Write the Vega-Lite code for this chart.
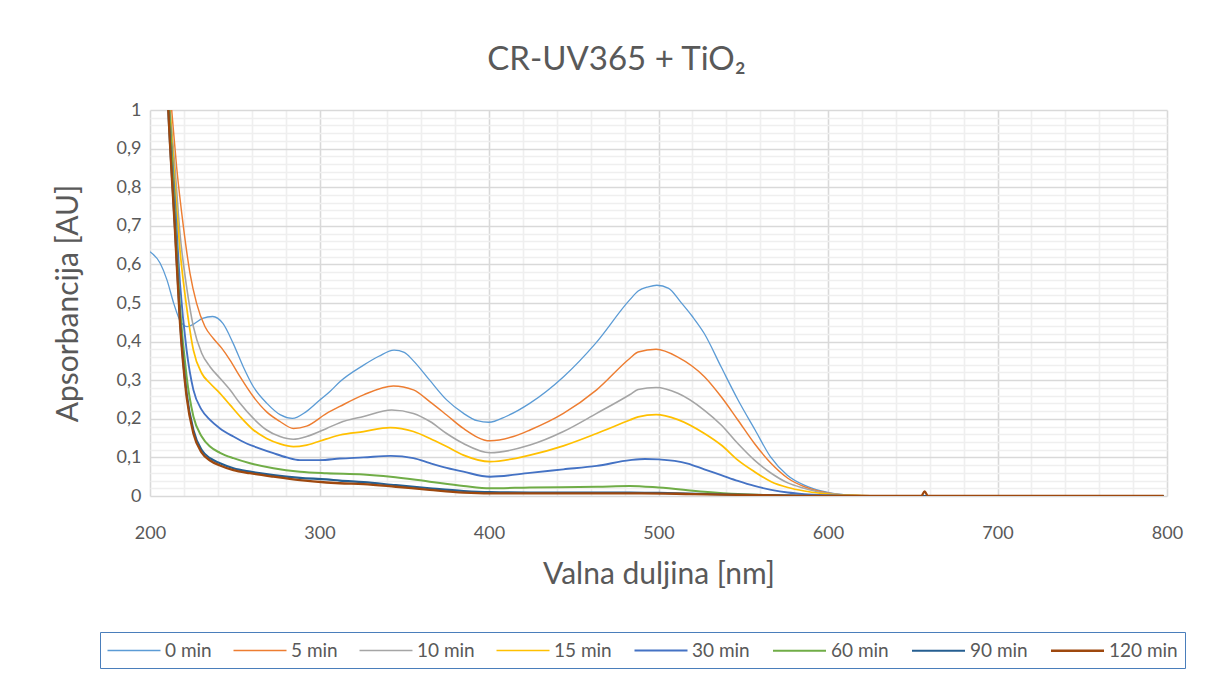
{
  "$schema": "https://vega.github.io/schema/vega-lite/v6.json",
  "width": 1017,
  "height": 386,
  "autosize": {"type": "none"},
  "padding": {"left": 150, "top": 110, "right": 42, "bottom": 179},
  "background": "white",
  "title": {
    "text": "CR-UV365 + TiO₂",
    "font": "Lato",
    "fontSize": 33,
    "fontWeight": "normal",
    "color": "#595959",
    "anchor": "middle",
    "dx": -42,
    "offset": 24
  },
  "config": {
    "view": {"stroke": null},
    "axis": {"labelFont": "Lato", "titleFont": "Lato", "labelColor": "#595959", "titleColor": "#595959", "titleFontWeight": "normal", "domain": false, "ticks": false, "gridWidth": 1.6, "labelFlush": false}
  },
  "data": {
    "values": [
      {"s":"0 min","x":200,"y":0.633},{"s":"0 min","x":206,"y":0.603},{"s":"0 min","x":210,"y":0.56},{"s":"0 min","x":214,"y":0.499},{"s":"0 min","x":218,"y":0.452},{"s":"0 min","x":222,"y":0.439},{"s":"0 min","x":226,"y":0.446},{"s":"0 min","x":231,"y":0.46},{"s":"0 min","x":237,"y":0.465},{"s":"0 min","x":243,"y":0.447},{"s":"0 min","x":249,"y":0.396},{"s":"0 min","x":255,"y":0.335},{"s":"0 min","x":261,"y":0.283},{"s":"0 min","x":269,"y":0.24},{"s":"0 min","x":277,"y":0.21},{"s":"0 min","x":284,"y":0.201},{"s":"0 min","x":292,"y":0.218},{"s":"0 min","x":300,"y":0.248},{"s":"0 min","x":306,"y":0.27},{"s":"0 min","x":312,"y":0.296},{"s":"0 min","x":326,"y":0.339},{"s":"0 min","x":335,"y":0.362},{"s":"0 min","x":344,"y":0.378},{"s":"0 min","x":350,"y":0.372},{"s":"0 min","x":355,"y":0.352},{"s":"0 min","x":365,"y":0.3},{"s":"0 min","x":375,"y":0.249},{"s":"0 min","x":385,"y":0.214},{"s":"0 min","x":393,"y":0.195},{"s":"0 min","x":400,"y":0.191},{"s":"0 min","x":410,"y":0.206},{"s":"0 min","x":424,"y":0.24},{"s":"0 min","x":444,"y":0.309},{"s":"0 min","x":463,"y":0.396},{"s":"0 min","x":483,"y":0.508},{"s":"0 min","x":488,"y":0.531},{"s":"0 min","x":494,"y":0.542},{"s":"0 min","x":499,"y":0.546},{"s":"0 min","x":506,"y":0.538},{"s":"0 min","x":513,"y":0.503},{"s":"0 min","x":520,"y":0.465},{"s":"0 min","x":527,"y":0.421},{"s":"0 min","x":537,"y":0.334},{"s":"0 min","x":547,"y":0.248},{"s":"0 min","x":557,"y":0.171},{"s":"0 min","x":566,"y":0.102},{"s":"0 min","x":576,"y":0.054},{"s":"0 min","x":586,"y":0.028},{"s":"0 min","x":596,"y":0.013},{"s":"0 min","x":606,"y":0.005},{"s":"0 min","x":620,"y":0.001},{"s":"0 min","x":650,"y":0},{"s":"0 min","x":700,"y":0},{"s":"0 min","x":750,"y":0},{"s":"0 min","x":798,"y":0},

      {"s":"5 min","x":208,"y":1.25},{"s":"5 min","x":212.8,"y":1.0},{"s":"5 min","x":215.7,"y":0.853},{"s":"5 min","x":219.7,"y":0.698},{"s":"5 min","x":223.6,"y":0.577},{"s":"5 min","x":227.5,"y":0.499},{"s":"5 min","x":232.4,"y":0.439},{"s":"5 min","x":237.4,"y":0.408},{"s":"5 min","x":242.3,"y":0.383},{"s":"5 min","x":247.2,"y":0.352},{"s":"5 min","x":253.1,"y":0.309},{"s":"5 min","x":261,"y":0.257},{"s":"5 min","x":268.8,"y":0.218},{"s":"5 min","x":276.7,"y":0.193},{"s":"5 min","x":284.6,"y":0.175},{"s":"5 min","x":292.4,"y":0.181},{"s":"5 min","x":304.2,"y":0.214},{"s":"5 min","x":312,"y":0.232},{"s":"5 min","x":326,"y":0.262},{"s":"5 min","x":343.6,"y":0.285},{"s":"5 min","x":355.4,"y":0.275},{"s":"5 min","x":365.2,"y":0.244},{"s":"5 min","x":375,"y":0.21},{"s":"5 min","x":384.9,"y":0.175},{"s":"5 min","x":400.6,"y":0.143},{"s":"5 min","x":414.4,"y":0.154},{"s":"5 min","x":424.2,"y":0.171},{"s":"5 min","x":443.9,"y":0.214},{"s":"5 min","x":463.5,"y":0.275},{"s":"5 min","x":483.2,"y":0.357},{"s":"5 min","x":488,"y":0.373},{"s":"5 min","x":498.6,"y":0.38},{"s":"5 min","x":511.4,"y":0.36},{"s":"5 min","x":527.1,"y":0.309},{"s":"5 min","x":537,"y":0.257},{"s":"5 min","x":546.8,"y":0.197},{"s":"5 min","x":556.6,"y":0.136},{"s":"5 min","x":566.5,"y":0.084},{"s":"5 min","x":576.3,"y":0.046},{"s":"5 min","x":586.1,"y":0.024},{"s":"5 min","x":596,"y":0.011},{"s":"5 min","x":606,"y":0.004},{"s":"5 min","x":620,"y":0.001},{"s":"5 min","x":650,"y":0},{"s":"5 min","x":700,"y":0},{"s":"5 min","x":750,"y":0},{"s":"5 min","x":798,"y":0},

      {"s":"10 min","x":208,"y":1.2},{"s":"10 min","x":211.8,"y":1.0},{"s":"10 min","x":214.7,"y":0.853},{"s":"10 min","x":217.7,"y":0.68},{"s":"10 min","x":221.6,"y":0.542},{"s":"10 min","x":225.6,"y":0.439},{"s":"10 min","x":230.5,"y":0.37},{"s":"10 min","x":235.4,"y":0.335},{"s":"10 min","x":241.3,"y":0.305},{"s":"10 min","x":247.2,"y":0.275},{"s":"10 min","x":253.1,"y":0.24},{"s":"10 min","x":261,"y":0.201},{"s":"10 min","x":268.8,"y":0.171},{"s":"10 min","x":276.7,"y":0.154},{"s":"10 min","x":284.6,"y":0.147},{"s":"10 min","x":292.4,"y":0.154},{"s":"10 min","x":304.2,"y":0.175},{"s":"10 min","x":312,"y":0.19},{"s":"10 min","x":326,"y":0.206},{"s":"10 min","x":342.6,"y":0.223},{"s":"10 min","x":355.4,"y":0.214},{"s":"10 min","x":365.2,"y":0.193},{"s":"10 min","x":375,"y":0.162},{"s":"10 min","x":384.9,"y":0.136},{"s":"10 min","x":400.6,"y":0.112},{"s":"10 min","x":424.2,"y":0.132},{"s":"10 min","x":443.9,"y":0.167},{"s":"10 min","x":463.5,"y":0.214},{"s":"10 min","x":483.2,"y":0.263},{"s":"10 min","x":488,"y":0.276},{"s":"10 min","x":498.6,"y":0.281},{"s":"10 min","x":511.4,"y":0.266},{"s":"10 min","x":527.1,"y":0.222},{"s":"10 min","x":537,"y":0.184},{"s":"10 min","x":546.8,"y":0.136},{"s":"10 min","x":556.6,"y":0.093},{"s":"10 min","x":566.5,"y":0.059},{"s":"10 min","x":576.3,"y":0.034},{"s":"10 min","x":586,"y":0.02},{"s":"10 min","x":596,"y":0.009},{"s":"10 min","x":610,"y":0.003},{"s":"10 min","x":630,"y":0},{"s":"10 min","x":700,"y":0},{"s":"10 min","x":798,"y":0},

      {"s":"15 min","x":208,"y":1.2},{"s":"15 min","x":211.8,"y":1.0},{"s":"15 min","x":214.7,"y":0.81},{"s":"15 min","x":217.7,"y":0.637},{"s":"15 min","x":221.6,"y":0.49},{"s":"15 min","x":225.6,"y":0.378},{"s":"15 min","x":230.5,"y":0.318},{"s":"15 min","x":235.4,"y":0.292},{"s":"15 min","x":241.3,"y":0.266},{"s":"15 min","x":247.2,"y":0.236},{"s":"15 min","x":253.1,"y":0.206},{"s":"15 min","x":261,"y":0.171},{"s":"15 min","x":268.8,"y":0.149},{"s":"15 min","x":276.7,"y":0.135},{"s":"15 min","x":284.6,"y":0.128},{"s":"15 min","x":292.4,"y":0.132},{"s":"15 min","x":304.2,"y":0.148},{"s":"15 min","x":312,"y":0.158},{"s":"15 min","x":326,"y":0.167},{"s":"15 min","x":341.6,"y":0.177},{"s":"15 min","x":355.4,"y":0.167},{"s":"15 min","x":365.2,"y":0.149},{"s":"15 min","x":375,"y":0.128},{"s":"15 min","x":384.9,"y":0.106},{"s":"15 min","x":400.6,"y":0.089},{"s":"15 min","x":424.2,"y":0.106},{"s":"15 min","x":443.9,"y":0.13},{"s":"15 min","x":463.5,"y":0.162},{"s":"15 min","x":483.2,"y":0.197},{"s":"15 min","x":488,"y":0.205},{"s":"15 min","x":498.6,"y":0.211},{"s":"15 min","x":511.4,"y":0.198},{"s":"15 min","x":527.1,"y":0.162},{"s":"15 min","x":537,"y":0.132},{"s":"15 min","x":546.8,"y":0.093},{"s":"15 min","x":556.6,"y":0.063},{"s":"15 min","x":566.5,"y":0.037},{"s":"15 min","x":576.3,"y":0.022},{"s":"15 min","x":586,"y":0.013},{"s":"15 min","x":596,"y":0.007},{"s":"15 min","x":610,"y":0.002},{"s":"15 min","x":630,"y":0},{"s":"15 min","x":700,"y":0},{"s":"15 min","x":798,"y":0},

      {"s":"30 min","x":208,"y":1.25},{"s":"30 min","x":211.4,"y":1.0},{"s":"30 min","x":214.7,"y":0.767},{"s":"30 min","x":217.7,"y":0.551},{"s":"30 min","x":221.6,"y":0.378},{"s":"30 min","x":225.6,"y":0.275},{"s":"30 min","x":230.5,"y":0.223},{"s":"30 min","x":235.4,"y":0.197},{"s":"30 min","x":241.3,"y":0.175},{"s":"30 min","x":249.2,"y":0.154},{"s":"30 min","x":257,"y":0.136},{"s":"30 min","x":264.9,"y":0.123},{"s":"30 min","x":272.8,"y":0.111},{"s":"30 min","x":280.6,"y":0.1},{"s":"30 min","x":288.5,"y":0.093},{"s":"30 min","x":300.3,"y":0.093},{"s":"30 min","x":312,"y":0.097},{"s":"30 min","x":326,"y":0.1},{"s":"30 min","x":342,"y":0.104},{"s":"30 min","x":355.4,"y":0.098},{"s":"30 min","x":365.2,"y":0.085},{"s":"30 min","x":375,"y":0.073},{"s":"30 min","x":384.9,"y":0.063},{"s":"30 min","x":400.6,"y":0.05},{"s":"30 min","x":424.2,"y":0.06},{"s":"30 min","x":443.9,"y":0.069},{"s":"30 min","x":463.5,"y":0.078},{"s":"30 min","x":483.2,"y":0.093},{"s":"30 min","x":492,"y":0.096},{"s":"30 min","x":500,"y":0.095},{"s":"30 min","x":517.3,"y":0.084},{"s":"30 min","x":527,"y":0.069},{"s":"30 min","x":537,"y":0.054},{"s":"30 min","x":546.8,"y":0.039},{"s":"30 min","x":556.6,"y":0.026},{"s":"30 min","x":566.5,"y":0.016},{"s":"30 min","x":576.3,"y":0.009},{"s":"30 min","x":586,"y":0.005},{"s":"30 min","x":600,"y":0.002},{"s":"30 min","x":620,"y":0},{"s":"30 min","x":700,"y":0},{"s":"30 min","x":798,"y":0},

      {"s":"60 min","x":208,"y":1.3},{"s":"60 min","x":211.4,"y":1.0},{"s":"60 min","x":214.7,"y":0.724},{"s":"60 min","x":217.7,"y":0.49},{"s":"60 min","x":221.6,"y":0.309},{"s":"60 min","x":225.6,"y":0.206},{"s":"60 min","x":230.5,"y":0.154},{"s":"60 min","x":235.4,"y":0.128},{"s":"60 min","x":241.3,"y":0.112},{"s":"60 min","x":249.2,"y":0.098},{"s":"60 min","x":259,"y":0.085},{"s":"60 min","x":272.8,"y":0.072},{"s":"60 min","x":288.5,"y":0.063},{"s":"60 min","x":304.2,"y":0.059},{"s":"60 min","x":326,"y":0.056},{"s":"60 min","x":342,"y":0.05},{"s":"60 min","x":365,"y":0.037},{"s":"60 min","x":385,"y":0.026},{"s":"60 min","x":400.6,"y":0.02},{"s":"60 min","x":424,"y":0.022},{"s":"60 min","x":464,"y":0.024},{"s":"60 min","x":483,"y":0.026},{"s":"60 min","x":500,"y":0.022},{"s":"60 min","x":527,"y":0.011},{"s":"60 min","x":547,"y":0.005},{"s":"60 min","x":566,"y":0.002},{"s":"60 min","x":590,"y":0},{"s":"60 min","x":700,"y":0},{"s":"60 min","x":798,"y":0},

      {"s":"90 min","x":208,"y":1.3},{"s":"90 min","x":210.8,"y":1.0},{"s":"90 min","x":214.7,"y":0.698},{"s":"90 min","x":217.7,"y":0.456},{"s":"90 min","x":221.6,"y":0.266},{"s":"90 min","x":225.6,"y":0.171},{"s":"90 min","x":230.5,"y":0.119},{"s":"90 min","x":235.4,"y":0.098},{"s":"90 min","x":241.3,"y":0.085},{"s":"90 min","x":249.2,"y":0.072},{"s":"90 min","x":259,"y":0.063},{"s":"90 min","x":272.8,"y":0.054},{"s":"90 min","x":288.5,"y":0.047},{"s":"90 min","x":304.2,"y":0.043},{"s":"90 min","x":312,"y":0.04},{"s":"90 min","x":326,"y":0.036},{"s":"90 min","x":345,"y":0.028},{"s":"90 min","x":365,"y":0.02},{"s":"90 min","x":385,"y":0.013},{"s":"90 min","x":400.6,"y":0.01},{"s":"90 min","x":424,"y":0.009},{"s":"90 min","x":483,"y":0.009},{"s":"90 min","x":500,"y":0.008},{"s":"90 min","x":540,"y":0.004},{"s":"90 min","x":580,"y":0.001},{"s":"90 min","x":600,"y":0},{"s":"90 min","x":700,"y":0},{"s":"90 min","x":798,"y":0},

      {"s":"120 min","x":208,"y":1.3},{"s":"120 min","x":210.8,"y":1.0},{"s":"120 min","x":214.7,"y":0.689},{"s":"120 min","x":217.7,"y":0.447},{"s":"120 min","x":221.6,"y":0.257},{"s":"120 min","x":225.6,"y":0.162},{"s":"120 min","x":230.5,"y":0.112},{"s":"120 min","x":235.4,"y":0.092},{"s":"120 min","x":241.3,"y":0.079},{"s":"120 min","x":249.2,"y":0.067},{"s":"120 min","x":259,"y":0.059},{"s":"120 min","x":272.8,"y":0.05},{"s":"120 min","x":288.5,"y":0.041},{"s":"120 min","x":304.2,"y":0.035},{"s":"120 min","x":312,"y":0.033},{"s":"120 min","x":326,"y":0.031},{"s":"120 min","x":345,"y":0.024},{"s":"120 min","x":365,"y":0.016},{"s":"120 min","x":385,"y":0.009},{"s":"120 min","x":400.6,"y":0.007},{"s":"120 min","x":483,"y":0.007},{"s":"120 min","x":490,"y":0.007},{"s":"120 min","x":520,"y":0.005},{"s":"120 min","x":560,"y":0.002},{"s":"120 min","x":600,"y":0},{"s":"120 min","x":655,"y":0},{"s":"120 min","x":657,"y":0.012},{"s":"120 min","x":659,"y":0},{"s":"120 min","x":700,"y":0},{"s":"120 min","x":798,"y":0}
    ]
  },
  "mark": {"type": "line", "clip": true, "interpolate": "monotone"},
  "encoding": {
    "x": {
      "field": "x", "type": "quantitative",
      "scale": {"domain": [200, 800], "nice": false, "zero": false},
      "axis": {
        "title": "Valna duljina [nm]",
        "titleFontSize": 30,
        "titlePadding": 17,
        "labelFontSize": 18,
        "labelPadding": 28,
        "values": [200,220,240,260,280,300,320,340,360,380,400,420,440,460,480,500,520,540,560,580,600,620,640,660,680,700,720,740,760,780,800],
        "labelExpr": "datum.value % 100 === 0 ? datum.label : ''",
        "grid": true,
        "gridColor": {"condition": {"test": "datum.value % 100 === 0", "value": "#d9d9d9"}, "value": "#efefef"}
      }
    },
    "y": {
      "field": "y", "type": "quantitative",
      "scale": {"domain": [0, 1], "nice": false},
      "axis": {
        "title": "Apsorbancija [AU]",
        "titleFontSize": 30,
        "titlePadding": 33,
        "labelFontSize": 18,
        "labelPadding": 9,
        "values": [0,0.02,0.04,0.06,0.08,0.1,0.12,0.14,0.16,0.18,0.2,0.22,0.24,0.26,0.28,0.3,0.32,0.34,0.36,0.38,0.4,0.42,0.44,0.46,0.48,0.5,0.52,0.54,0.56,0.58,0.6,0.62,0.64,0.66,0.68,0.7,0.72,0.74,0.76,0.78,0.8,0.82,0.84,0.86,0.88,0.9,0.92,0.94,0.96,0.98,1],
        "labelExpr": "abs(datum.value*10 - round(datum.value*10)) < 0.0001 ? replace(format(datum.value, '~g'), '.', ',') : ''",
        "grid": true,
        "gridColor": {"condition": {"test": "abs(datum.value*10 - round(datum.value*10)) < 0.0001", "value": "#d9d9d9"}, "value": "#efefef"}
      }
    },
    "color": {
      "field": "s", "type": "nominal",
      "scale": {
        "domain": ["0 min","5 min","10 min","15 min","30 min","60 min","90 min","120 min"],
        "range": ["#5B9BD5","#ED7D31","#A5A5A5","#FFC000","#4472C4","#70AD47","#255E91","#9E480E"]
      },
      "legend": {
        "title": null,
        "orient": "none",
        "direction": "horizontal",
        "legendX": -50,
        "legendY": 522,
        "padding": 7,
        "strokeColor": "#4a7ebb",
        "fillColor": "white",
        "symbolType": "M-2.65,0H2.65",
        "symbolSize": 400,
        "symbolOffset": 16,
        "symbolStrokeWidth": 2,
        "labelFont": "Lato",
        "labelFontSize": 19,
        "labelColor": "#595959",
        "labelOffset": 20,
        "columnPadding": 18
      }
    },
    "strokeWidth": {
      "field": "s", "type": "nominal",
      "scale": {
        "domain": ["0 min","5 min","10 min","15 min","30 min","60 min","90 min","120 min"],
        "range": [1.3, 2.3, 2.3, 2.3, 2.3, 2.3, 2.3, 2.3]
      },
      "legend": null
    }
  }
}
